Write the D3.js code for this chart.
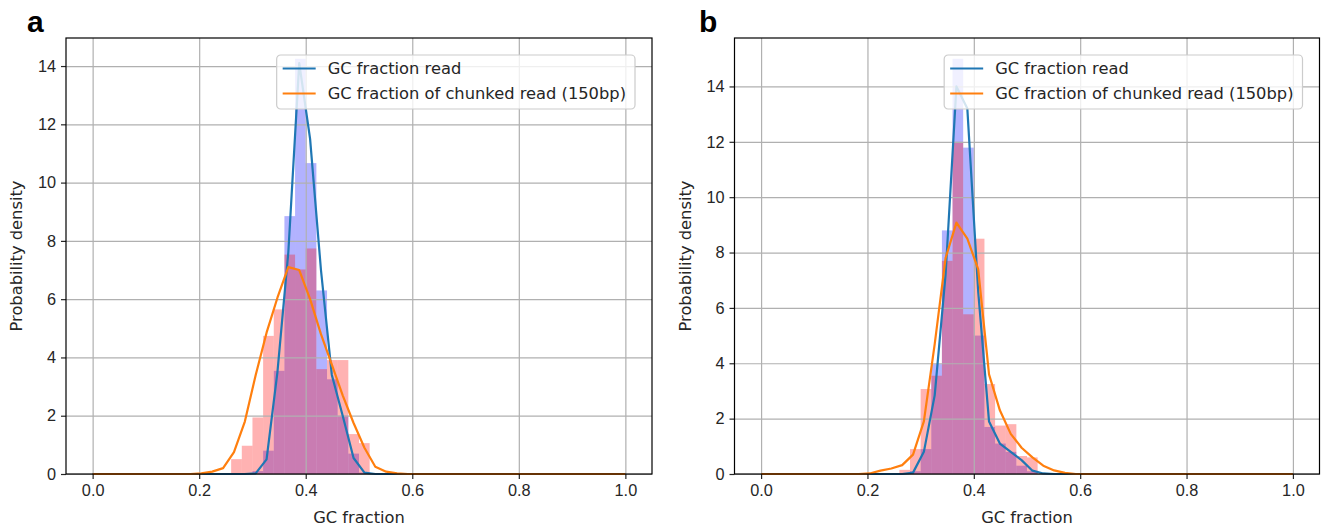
<!DOCTYPE html>
<html>
<head>
<meta charset="utf-8">
<script src="https://cdn.jsdelivr.net/npm/d3@7/dist/d3.min.js"></script>
<style>
  body { margin: 0; background: #fff; }
  svg { display: block; font-family: "DejaVu Sans", sans-serif; }
  .tick text { font-size: 16.3px; fill: #262626; }
  .tick line { stroke: #262626; stroke-width: 1.2; }
  .grid .tick line { stroke: #b0b0b0; stroke-width: 1.2; }
  .axis-label { font-size: 16.3px; fill: #262626; }
  .legend text { font-size: 16.3px; fill: #262626; }
  .panel-label { font-family: "Liberation Sans", Arial, sans-serif; font-weight: bold; font-size: 30px; fill: #000; }
</style>
</head>
<body>
<svg id="chart" width="1322" height="526"></svg>
<script>
// KDE evaluation points (np.linspace(0, 1, 50))
const gcGrid = [0, .0204, .0408, .0612, .0816, .1020, .1224, .1429, .1633, .1837,
  .2041, .2245, .2449, .2653, .2857, .3061, .3265, .3469, .3673, .3878,
  .4082, .4286, .4490, .4694, .4898, .5102, .5306, .5510, .5714, .5918,
  .6122, .6327, .6531, .6735, .6939, .7143, .7347, .7551, .7755, .7959,
  .8163, .8367, .8571, .8776, .8980, .9184, .9388, .9592, .9796, 1];

// panel a: density curves
const readCurveA = [0, 0, 0, 0, 0, 0, 0, 0, 0, 0,
  0, 0, 0, 0, 0, 0.02, 0.5, 3.5, 7.6, 14.1,
  11.5, 7.0, 3.4, 2.0, 0.55, 0.05, 0, 0, 0, 0,
  0, 0, 0, 0, 0, 0, 0, 0, 0, 0,
  0, 0, 0, 0, 0, 0, 0, 0, 0, 0];
const chunkCurveA = [0, 0, 0, 0, 0, 0, 0, 0, 0, 0,
  0.02, 0.08, 0.2, 0.75, 1.8, 3.4, 4.85, 6.05, 7.1, 7.0,
  6.0, 4.8, 3.75, 2.7, 1.75, 0.9, 0.25, 0.08, 0.02, 0,
  0, 0, 0, 0, 0, 0, 0, 0, 0, 0,
  0, 0, 0, 0, 0, 0, 0, 0, 0, 0];

// panel a: histograms (left bin edges, densities)
const readBinsA = [0.30, 0.32, 0.34, 0.36, 0.38, 0.40, 0.42, 0.44, 0.46, 0.48, 0.50];
const readHistA = [0.1, 0.8, 3.54, 8.85, 14.25, 10.67, 6.3, 3.25, 2.0, 0.7, 0.05];
const chunkBinsA = [0.26, 0.28, 0.30, 0.32, 0.34, 0.36, 0.38, 0.40, 0.42, 0.44, 0.46, 0.48, 0.50];
const chunkHistA = [0.51, 0.97, 1.94, 4.74, 5.65, 7.53, 7.02, 7.74, 3.6, 3.91, 3.91, 1.37, 1.06];

// panel b: density curves
const readCurveB = [0, 0, 0, 0, 0, 0, 0, 0, 0, 0,
  0, 0, 0, 0, 0.05, 0.8, 2.85, 7.2, 14.0, 13.2,
  6.6, 1.9, 1.1, 0.8, 0.5, 0.12, 0.02, 0, 0, 0,
  0, 0, 0, 0, 0, 0, 0, 0, 0, 0,
  0, 0, 0, 0, 0, 0, 0, 0, 0, 0];
const chunkCurveB = [0, 0, 0, 0, 0, 0, 0, 0, 0, 0,
  0.02, 0.12, 0.2, 0.32, 0.7, 1.9, 4.7, 7.8, 9.08, 8.5,
  7.4, 3.6, 2.3, 1.45, 0.95, 0.6, 0.3, 0.13, 0.04, 0,
  0, 0, 0, 0, 0, 0, 0, 0, 0, 0,
  0, 0, 0, 0, 0, 0, 0, 0, 0, 0];

// panel b: histograms
const readBinsB = [0.28, 0.30, 0.32, 0.34, 0.36, 0.38, 0.40, 0.42, 0.44, 0.46, 0.48, 0.50];
const readHistB = [0.1, 0.9, 3.97, 8.8, 15.0, 11.79, 5.0, 1.7, 1.1, 0.8, 0.3, 0.1];
const chunkBinsB = [0.26, 0.28, 0.30, 0.32, 0.34, 0.36, 0.38, 0.40, 0.42, 0.44, 0.46, 0.48, 0.50];
const chunkHistB = [0.15, 0.9, 3.07, 3.55, 7.7, 12.0, 5.77, 8.5, 3.25, 1.75, 1.8, 0.65, 0.6];

const binWidth = 0.02;
const xTicks = [0, 0.2, 0.4, 0.6, 0.8, 1.0];
const yTicks = [0, 2, 4, 6, 8, 10, 12, 14];
const seriesNames = ['GC fraction read', 'GC fraction of chunked read (150bp)'];
const seriesColors = ['#1f77b4', '#ff7f0e'];

const panels = [
  { label: 'a', labelX: 27, left: 66, right: 652,
    readCurve: readCurveA, chunkCurve: chunkCurveA,
    readBins: readBinsA, readHist: readHistA, chunkBins: chunkBinsA, chunkHist: chunkHistA },
  { label: 'b', labelX: 699, left: 734.5, right: 1319.5,
    readCurve: readCurveB, chunkCurve: chunkCurveB,
    readBins: readBinsB, readHist: readHistB, chunkBins: chunkBinsB, chunkHist: chunkHistB }
];

const svg = d3.select('#chart');
const axTop = 38, axBottom = 474;

function drawPanel(p) {
  const g = svg.append('g').attr('class', `panel panel-${p.label}`);

  const yMax = 1.05 * d3.max([...p.readCurve, ...p.chunkCurve, ...p.readHist, ...p.chunkHist]);
  const x = d3.scaleLinear().domain([-0.05, 1.05]).range([p.left, p.right]);
  const y = d3.scaleLinear().domain([0, yMax]).range([axBottom, axTop]);

  // histograms
  const drawHist = (bins, hist, fill, opacity) => {
    g.append('g')
      .selectAll('rect')
      .data(bins.map((b, i) => ({ x0: b, h: hist[i] })))
        .enter()
      .append('rect')
        .attr('x', (d) => x(d.x0))
        .attr('y', (d) => y(d.h))
        .attr('width', (d) => x(d.x0 + binWidth) - x(d.x0))
        .attr('height', (d) => y(0) - y(d.h))
        .attr('fill', fill)
        .attr('fill-opacity', opacity);
  };
  drawHist(p.readBins, p.readHist, 'blue', 0.3);
  drawHist(p.chunkBins, p.chunkHist, 'red', 0.3);

  // grid
  g.append('g').attr('class', 'grid')
    .attr('transform', `translate(0, ${axBottom})`)
    .call(d3.axisBottom(x).tickValues(xTicks).tickSize(-(axBottom - axTop)).tickFormat(''))
    .call((s) => s.select('.domain').remove());
  g.append('g').attr('class', 'grid')
    .attr('transform', `translate(${p.left}, 0)`)
    .call(d3.axisLeft(y).tickValues(yTicks).tickSize(-(p.right - p.left)).tickFormat(''))
    .call((s) => s.select('.domain').remove());

  // density lines
  const line = d3.line().x((d, i) => x(gcGrid[i])).y((d) => y(d));
  [p.readCurve, p.chunkCurve].forEach((curve, i) => {
    g.append('path')
      .datum(curve)
      .attr('d', line)
      .attr('fill', 'none')
      .attr('stroke', seriesColors[i])
      .attr('stroke-width', 2.2)
      .attr('stroke-linejoin', 'round');
  });

  // axes
  g.append('g')
    .attr('transform', `translate(0, ${axBottom})`)
    .call(d3.axisBottom(x).tickValues(xTicks).tickSize(5).tickPadding(5).tickFormat(d3.format('.1f')))
    .call((s) => s.select('.domain').remove())
    .call((s) => s.selectAll('text').attr('dy', '0.76em').attr('y', 10));
  g.append('g')
    .attr('transform', `translate(${p.left}, 0)`)
    .call(d3.axisLeft(y).tickValues(yTicks).tickSize(5).tickPadding(5))
    .call((s) => s.select('.domain').remove());

  // spines
  g.append('rect')
    .attr('x', p.left).attr('y', axTop)
    .attr('width', p.right - p.left).attr('height', axBottom - axTop)
    .attr('fill', 'none').attr('stroke', '#000').attr('stroke-width', 1.2);

  // axis labels
  g.append('text').attr('class', 'axis-label')
    .attr('x', x(0.5)).attr('y', 523)
    .attr('text-anchor', 'middle')
    .text('GC fraction');
  g.append('text').attr('class', 'axis-label')
    .attr('transform', `translate(${p.left - 44}, ${(axTop + axBottom) / 2}) rotate(-90)`)
    .attr('text-anchor', 'middle')
    .text('Probability density');

  // legend
  const lg = g.append('g').attr('class', 'legend');
  const box = lg.append('rect')
    .attr('fill', '#fff').attr('fill-opacity', 0.8)
    .attr('stroke', '#cccccc').attr('stroke-width', 1.2)
    .attr('rx', 4).attr('ry', 4);
  let maxW = 0;
  seriesNames.forEach((name, i) => {
    const rowY = 13.5 + i * 25;
    lg.append('line')
      .attr('x1', 6).attr('x2', 39).attr('y1', rowY).attr('y2', rowY)
      .attr('stroke', seriesColors[i]).attr('stroke-width', 2.2);
    const t = lg.append('text')
      .attr('x', 51).attr('y', rowY).attr('dy', '0.35em')
      .text(name);
    maxW = Math.max(maxW, t.node().getComputedTextLength());
  });
  const boxW = 51 + maxW + 9;
  const boxH = 54;
  box.attr('width', boxW).attr('height', boxH);
  lg.attr('transform', `translate(${p.right - 17 - boxW}, ${axTop + 17})`);

  // panel letter
  svg.append('text').attr('class', 'panel-label')
    .attr('x', p.labelX).attr('y', 32)
    .text(p.label);
}

panels.forEach(drawPanel);
</script>
</body>
</html>
